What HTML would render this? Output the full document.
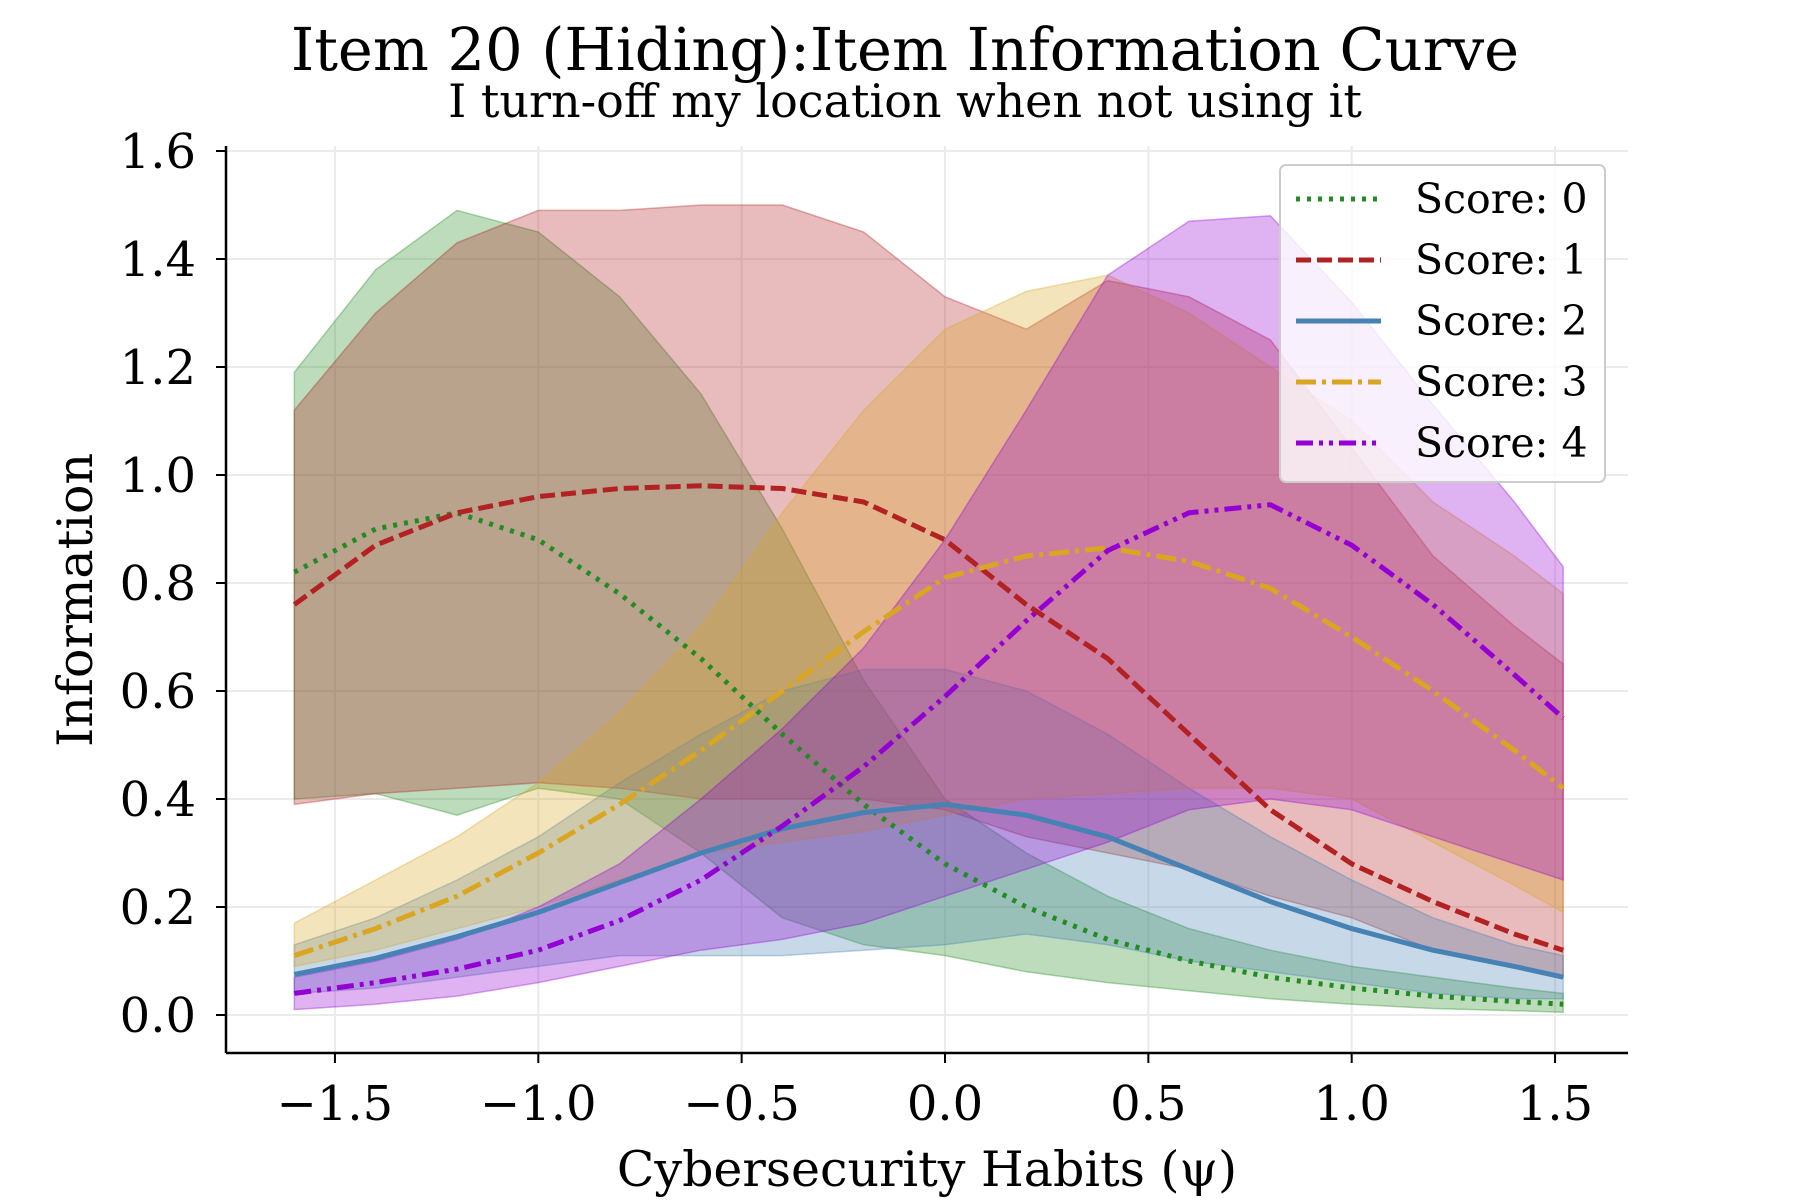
<!DOCTYPE html>
<html><head><meta charset="utf-8">
<style>
html,body{margin:0;padding:0;background:#fff;}
svg{display:block;font-family:"DejaVu Serif","Liberation Serif",serif;}
</style></head>
<body>
<svg id="chart" width="1800" height="1200" viewBox="0 0 1800 1200" xmlns="http://www.w3.org/2000/svg">
<rect width="1800" height="1200" fill="#fff"/>
<text x="905" y="70" font-size="59" text-anchor="middle">Item 20 (Hiding):Item Information Curve</text>
<text x="905" y="117" font-size="46" text-anchor="middle">I turn-off my location when not using it</text>
<g id="grid"></g>
<g id="bands"></g>
<g id="lines"></g>
<g id="axes"></g>
<text x="927" y="1186" font-size="49" text-anchor="middle">Cybersecurity Habits (ψ)</text>
<text x="0" y="0" font-size="49" text-anchor="middle" transform="translate(92,600) rotate(-90)">Information</text>
<g id="legend"></g>
</svg>
<script>
const xs = [-1.6,-1.4,-1.2,-1.0,-0.8,-0.6,-0.4,-0.2,0,0.2,0.4,0.6,0.8,1.0,1.2,1.4,1.52];
const seriesNames = ["Score: 0","Score: 1","Score: 2","Score: 3","Score: 4"];
const mean0 = [0.82,0.90,0.93,0.88,0.78,0.66,0.52,0.39,0.28,0.20,0.14,0.10,0.07,0.05,0.035,0.025,0.02];
const upper0 = [1.19,1.38,1.49,1.45,1.33,1.15,0.90,0.62,0.40,0.30,0.22,0.16,0.12,0.09,0.07,0.05,0.04];
const lower0 = [0.40,0.41,0.37,0.42,0.40,0.30,0.18,0.13,0.11,0.08,0.06,0.045,0.03,0.02,0.012,0.008,0.005];
const mean1 = [0.76,0.87,0.93,0.96,0.975,0.98,0.975,0.95,0.88,0.76,0.66,0.52,0.38,0.28,0.21,0.15,0.12];
const upper1 = [1.12,1.30,1.43,1.49,1.49,1.50,1.50,1.45,1.33,1.27,1.36,1.33,1.25,1.05,0.85,0.72,0.65];
const lower1 = [0.39,0.41,0.42,0.43,0.42,0.40,0.40,0.40,0.38,0.33,0.30,0.27,0.22,0.18,0.12,0.09,0.07];
const mean2 = [0.075,0.105,0.145,0.19,0.245,0.30,0.345,0.375,0.39,0.37,0.33,0.27,0.21,0.16,0.12,0.09,0.07];
const upper2 = [0.13,0.18,0.25,0.33,0.43,0.52,0.60,0.64,0.64,0.60,0.52,0.42,0.33,0.25,0.18,0.13,0.11];
const lower2 = [0.04,0.05,0.07,0.09,0.11,0.11,0.11,0.12,0.13,0.15,0.13,0.10,0.08,0.06,0.04,0.03,0.03];
const mean3 = [0.11,0.16,0.22,0.30,0.39,0.49,0.60,0.71,0.81,0.85,0.865,0.84,0.79,0.70,0.60,0.49,0.42];
const upper3 = [0.17,0.25,0.33,0.43,0.56,0.72,0.93,1.12,1.27,1.34,1.37,1.30,1.20,1.10,0.95,0.85,0.78];
const lower3 = [0.09,0.12,0.16,0.20,0.25,0.30,0.32,0.34,0.37,0.40,0.41,0.42,0.42,0.40,0.32,0.24,0.19];
const mean4 = [0.04,0.06,0.085,0.12,0.175,0.25,0.35,0.46,0.59,0.73,0.86,0.93,0.945,0.87,0.76,0.63,0.55];
const upper4 = [0.07,0.10,0.14,0.20,0.28,0.40,0.53,0.68,0.88,1.12,1.37,1.47,1.48,1.32,1.13,0.95,0.83];
const lower4 = [0.01,0.02,0.035,0.06,0.09,0.12,0.14,0.17,0.22,0.27,0.32,0.38,0.40,0.38,0.33,0.28,0.25];
const xTicks = [-1.5,-1.0,-0.5,0.0,0.5,1.0,1.5];
const xTickLabels = ["\u22121.5","\u22121.0","\u22120.5","0.0","0.5","1.0","1.5"];
const yTicks = [0,0.2,0.4,0.6,0.8,1.0,1.2,1.4,1.6];
const yTickLabels = ["0.0","0.2","0.4","0.6","0.8","1.0","1.2","1.4","1.6"];

const NS="http://www.w3.org/2000/svg";
const L=226,R=1628,T=146,B=1053;
function xScale(v){return 945+v*406.7;}
function yScale(v){return 1015-v*540;}
function mk(tag,attrs,parent){const e=document.createElementNS(NS,tag);for(const k in attrs)e.setAttribute(k,attrs[k]);parent.appendChild(e);return e;}

const colors=["#228b22","#b22222","#4682b4","#daa520","#9400d3"];
const dashes=["4,7","15,6","none","20,6,4,6","17,6,4,6,4,6"];
const means=[mean0,mean1,mean2,mean3,mean4];
const uppers=[upper0,upper1,upper2,upper3,upper4];
const lowers=[lower0,lower1,lower2,lower3,lower4];

const grid=document.getElementById('grid');
xTicks.forEach(t=>{const g=mk('line',{x1:xScale(t),x2:xScale(t),y1:T,y2:B,stroke:'#ebebeb','stroke-width':2},grid);

});
yTicks.forEach(t=>{const g=mk('line',{x1:L,x2:R,y1:yScale(t),y2:yScale(t),stroke:'#ebebeb','stroke-width':2},grid);

});

const bands=document.getElementById('bands');
for(let s=0;s<5;s++){
  let d='';
  xs.forEach((x,i)=>{d+=(i?'L':'M')+xScale(x).toFixed(1)+','+yScale(uppers[s][i]).toFixed(1);});
  for(let i=xs.length-1;i>=0;i--){d+='L'+xScale(xs[i]).toFixed(1)+','+yScale(lowers[s][i]).toFixed(1);}
  d+='Z';
  const p=mk('path',{d:d,fill:colors[s],'fill-opacity':0.3,stroke:colors[s],'stroke-opacity':0.35,'stroke-width':1.5},bands);
  
  
}
const lines=document.getElementById('lines');
for(let s=0;s<5;s++){
  const pts=xs.map((x,i)=>xScale(x).toFixed(1)+','+yScale(means[s][i]).toFixed(1)).join(' ');
  const a={points:pts,fill:'none',stroke:colors[s],'stroke-width':5,'stroke-linejoin':'round'};
  if(dashes[s]!=='none')a['stroke-dasharray']=dashes[s];
  const p=mk('polyline',a,lines);
  
  
}
const axes=document.getElementById('axes');
let sp=mk('line',{x1:L,x2:L,y1:T,y2:B,stroke:'#000','stroke-width':2.5},axes);


sp=mk('line',{x1:L,x2:R,y1:B,y2:B,stroke:'#000','stroke-width':2.5},axes);


xTicks.forEach((t,i)=>{
  const tk=mk('line',{x1:xScale(t),x2:xScale(t),y1:B,y2:B+10,stroke:'#000','stroke-width':2},axes);
  
  
  const tx=mk('text',{x:xScale(t),y:1120,'font-size':48,'text-anchor':'middle'},axes);
  tx.textContent=xTickLabels[i];
  
  
});
yTicks.forEach((t,i)=>{
  const tk=mk('line',{x1:L-10,x2:L,y1:yScale(t),y2:yScale(t),stroke:'#000','stroke-width':2},axes);
  
  
  const tx=mk('text',{x:196,y:yScale(t)+17,'font-size':48,'text-anchor':'end'},axes);
  tx.textContent=yTickLabels[i];
  
  
});
const leg=document.getElementById('legend');
const box=mk('rect',{x:1280,y:165,width:325,height:317,rx:6,fill:'#fff','fill-opacity':0.8,stroke:'#ccc','stroke-width':2},leg);


seriesNames.forEach((n,s)=>{
  const y=199+s*61;
  const a={x1:1296,x2:1381,y1:y,y2:y,stroke:colors[s],'stroke-width':5};
  if(dashes[s]!=='none')a['stroke-dasharray']=dashes[s];
  const ln=mk('line',a,leg);
  
  
  const tx=mk('text',{x:1415,y:y+14,'font-size':41},leg);
  tx.textContent=n;
  
  
});
</script>
</body></html>
